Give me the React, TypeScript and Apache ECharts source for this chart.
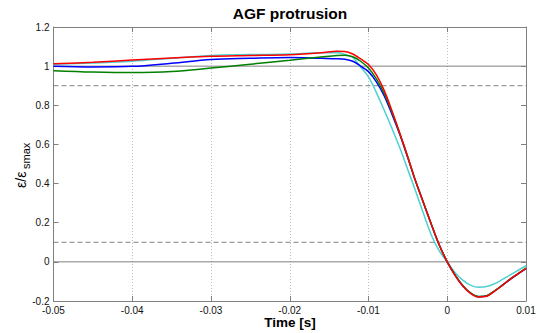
import React, { useEffect, useRef } from "react";
import * as echarts from "echarts";

const times = [
  -0.05, -0.045, -0.04, -0.035, -0.03, -0.025, -0.02, -0.016, -0.014, -0.013,
  -0.012, -0.011, -0.01, -0.009, -0.008, -0.007, -0.006, -0.005, -0.004, -0.003,
  -0.002, -0.001, 0, 0.001, 0.002, 0.003, 0.004, 0.005, 0.006, 0.007, 0.008,
  0.009, 0.01,
];

const red = [
  1.012, 1.02, 1.031, 1.041, 1.05, 1.054, 1.058, 1.068, 1.076, 1.075,
  1.062, 1.037, 1.008, 0.955, 0.875, 0.77, 0.655, 0.535, 0.41, 0.3,
  0.19, 0.085, 0, -0.07, -0.125, -0.162, -0.18, -0.176, -0.15, -0.12, -0.088,
  -0.06, -0.033,
];

const blue = [
  1.0, 0.996, 0.999, 1.015, 1.034, 1.04, 1.044, 1.04, 1.038, 1.035,
  1.025, 1.0, 0.972, 0.92, 0.848, 0.752, 0.648, 0.53, 0.41, 0.3,
  0.19, 0.085, 0, -0.068, -0.123, -0.161, -0.178, -0.174, -0.149, -0.12, -0.09,
  -0.062, -0.035,
];

const green = [
  0.977, 0.97, 0.967, 0.972, 0.99, 1.01, 1.03, 1.047, 1.055, 1.056,
  1.048, 1.025, 0.99, 0.935, 0.86, 0.762, 0.652, 0.535, 0.41, 0.3,
  0.19, 0.085, 0, -0.068, -0.122, -0.16, -0.177, -0.173, -0.148, -0.119, -0.087,
  -0.06, -0.032,
];

const cyan = [
  1.01, 1.016, 1.025, 1.04, 1.055, 1.059, 1.062, 1.068, 1.068, 1.06,
  1.045, 0.996, 0.945, 0.865, 0.775, 0.68, 0.58, 0.47, 0.36, 0.245,
  0.135, 0.055, 0, -0.055, -0.095, -0.12, -0.13, -0.126, -0.112, -0.09, -0.066,
  -0.043, -0.02,
];

const xMin = -0.05;
const xMax = 0.01;
const yMin = -0.2;
const yMax = 1.2;
const refSolid = [1, 0];
const refDashed = [0.9, 0.1];

const titleText = "AGF protrusion";
const xLabelText = "Time [s]";

export default function App() {
  const ref = useRef<HTMLDivElement>(null);
  useEffect(() => {
    if (!ref.current) return;
    const chart = echarts.init(ref.current, null, { renderer: "svg" });
    const font = "Liberation Sans, Arial, Helvetica, sans-serif";
    const axisColor = "#808080";
    const xFmt = (v: number) => {
      const r = Math.round(v * 100) / 100;
      return r === 0 ? "0" : String(r);
    };
    const yFmt = (v: number) => {
      const r = Math.round(v * 10) / 10;
      return r === 0 ? "0" : String(r);
    };
    const baseAxis = {
      type: "value",
      axisLine: { show: true, onZero: false, lineStyle: { color: axisColor, width: 1 } },
      axisTick: { show: true, inside: true, length: 5, lineStyle: { color: axisColor } },
      splitLine: { show: false },
    };
    const mk = (name: string, color: string, vals: number[]) => ({
      name,
      type: "line",
      data: times.map((t, i) => [t, vals[i]]),
      showSymbol: false,
      smooth: 0.35,
      z: 3,
      lineStyle: { color, width: 1.5 },
      itemStyle: { color },
    });
    const refSeries = [
      ...refSolid.map((v) => ({
        type: "line",
        data: [[xMin, v], [xMax, v]],
        showSymbol: false,
        silent: true,
        z: 1,
        lineStyle: { color: axisColor, width: 1, type: "solid" },
      })),
      ...refDashed.map((v) => ({
        type: "line",
        data: [[xMin, v], [xMax, v]],
        showSymbol: false,
        silent: true,
        z: 1,
        lineStyle: { color: axisColor, width: 1, type: [5, 3] },
      })),
    ];
    chart.setOption({
      animation: false,
      backgroundColor: "#ffffff",
      grid: { left: 53.5, right: 14, top: 27, bottom: 32, containLabel: false },
      xAxis: [
        {
          ...baseAxis,
          position: "bottom",
          min: xMin,
          max: xMax,
          interval: 0.01,
          axisLabel: { fontSize: 10, color: "#111", fontFamily: font, margin: 4, formatter: xFmt },
          splitLine: { show: true, lineStyle: { color: "#bdbdbd", type: [1, 2], width: 1 } },
        },
        {
          ...baseAxis,
          position: "top",
          min: xMin,
          max: xMax,
          interval: 0.01,
          axisLabel: { show: false },
        },
      ],
      yAxis: [
        {
          ...baseAxis,
          position: "left",
          min: yMin,
          max: yMax,
          interval: 0.2,
          axisLabel: { fontSize: 10, color: "#111", fontFamily: font, margin: 4, formatter: yFmt },
        },
        {
          ...baseAxis,
          position: "right",
          min: yMin,
          max: yMax,
          interval: 0.2,
          axisLabel: { show: false },
        },
      ],
      graphic: [
        {
          type: "text",
          x: 290,
          y: 13,
          style: {
            text: titleText,
            fontSize: 15.5,
            fontWeight: "bold",
            fontFamily: font,
            fill: "#000",
            align: "center",
            verticalAlign: "middle",
          },
        },
        {
          type: "text",
          x: 290,
          y: 322,
          style: {
            text: xLabelText,
            fontSize: 13.5,
            fontWeight: "bold",
            fontFamily: font,
            fill: "#000",
            align: "center",
            verticalAlign: "middle",
          },
        },
        {
          type: "group",
          x: 21,
          y: 188,
          rotation: Math.PI / 2,
          children: [
            {
              type: "text",
              x: 0,
              y: 0,
              style: {
                text: "ε/ε",
                fontSize: 14,
                fontFamily: font,
                fill: "#000",
                align: "left",
                verticalAlign: "middle",
              },
            },
            {
              type: "text",
              x: 19,
              y: 5,
              style: {
                text: "smax",
                fontSize: 11,
                fontFamily: font,
                fill: "#000",
                align: "left",
                verticalAlign: "middle",
              },
            },
          ],
        },
      ],
      series: [
        ...refSeries,
        mk("cyan", "#4dd0d0", cyan),
        mk("blue", "#0000ff", blue),
        mk("green", "#008000", green),
        mk("red", "#ff0000", red),
      ],
    });
    return () => chart.dispose();
  }, []);
  return (
    <div
      ref={ref}
      style={{ position: "fixed", left: 0, top: 0, width: 540, height: 333, background: "#fff" }}
    />
  );
}
